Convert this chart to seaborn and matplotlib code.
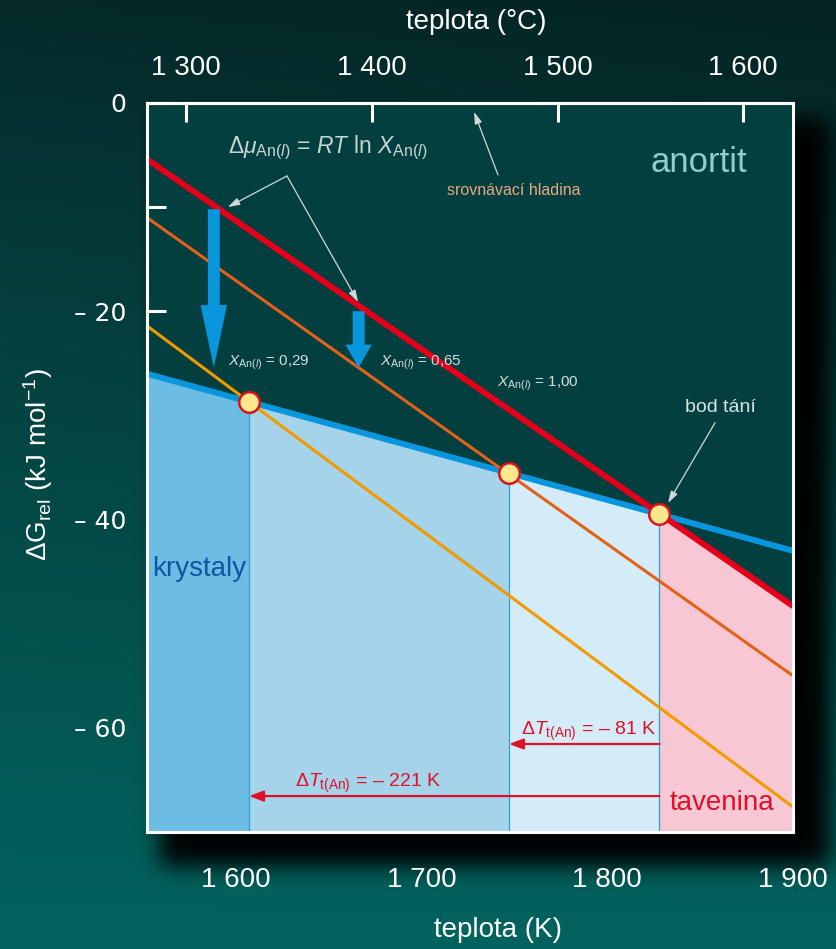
import numpy as np
import matplotlib
matplotlib.use("Agg")
import matplotlib.pyplot as plt
from matplotlib.patches import FancyArrowPatch
import seaborn as sns

# temperature range (K) and line values at both ends of it (kJ/mol)
T_edges = [1552, 1900]
G_crystal = [-26.0, -43.0]      # anortit, krystaly
G_melt_100 = [-5.4, -48.3]      # tavenina, X_An(l) = 1,00
G_melt_065 = [-11.0, -55.0]     # tavenina, X_An(l) = 0,65
G_melt_029 = [-21.4, -67.6]     # tavenina, X_An(l) = 0,29

# equilibrium points crystal / melt
melt_T = [1607, 1747, 1828]
melt_G = [-28.7, -35.5, -39.45]
melt_X = ["0,29", "0,65", "1,00"]

# freezing-point depression arrows
dT_labels = ["– 221 K", "– 81 K"]
dT_level = [-66.55, -61.55]

# RT ln X drops shown as thick arrows
mu_T = [1588, 1666]
mu_top = [-10.2, -20.0]
mu_tip = [-25.4, -25.4]
mu_head = [45.0, 16.5]

xticks_K = [1600, 1700, 1800, 1900]
xticks_C = [1300, 1400, 1500, 1600]
yticks = [0, -10, -20, -30, -40, -50, -60]
y_min, y_max = -70, 0

W, H = 837, 949

sns.set_theme(style="white")
plt.rcParams["font.family"] = ["Liberation Sans", "DejaVu Sans"]
plt.rcParams["mathtext.fontset"] = "custom"
plt.rcParams["mathtext.rm"] = "Liberation Sans"
plt.rcParams["mathtext.it"] = "Liberation Sans:italic"
plt.rcParams["mathtext.bf"] = "Liberation Sans:bold"
plt.rcParams["mathtext.sf"] = "Liberation Sans"


def blur(a, sigma):
    r = int(3 * sigma)
    k = np.exp(-0.5 * (np.arange(-r, r + 1) / sigma) ** 2)
    k /= k.sum()
    a = np.apply_along_axis(lambda v: np.convolve(v, k, mode="same"), 0, a)
    a = np.apply_along_axis(lambda v: np.convolve(v, k, mode="same"), 1, a)
    return a


# dark teal backdrop with a drop shadow behind the plot frame
yy = np.broadcast_to(np.linspace(0, 1, H)[:, None], (H, W))
xx = np.broadcast_to(np.linspace(0, 1, W)[None, :], (H, W))
top_c = np.array([0.02, 0.16, 0.16])
bot_c = np.array([0.01, 0.39, 0.37])
t = (yy ** 0.9)[..., None]
bg = top_c * (1 - t) + bot_c * t
bg *= (1 - 0.15 * (xx * (1 - yy)))[..., None]
mask = np.zeros((H, W))
mask[118:866, 160:830] = 1.0
mask = blur(mask, 11)
bg *= (1 - 0.97 * mask)[..., None]
bg = np.clip(bg, 0, 1)

fig = plt.figure(figsize=(W / 100, H / 100), dpi=100)
bax = fig.add_axes([0, 0, 1, 1], zorder=-10)
bax.imshow(bg, aspect="auto", extent=(0, 1, 0, 1))
bax.set_axis_off()

ax = fig.add_axes([147 / W, 1 - 832 / H, 646 / W, 729 / H])
ax.set_facecolor("#033f3f")
ax.set_xlim(*T_edges)
ax.set_ylim(y_min, y_max)

# stability fields under the curves
edges_T = [T_edges[0]] + melt_T
tops = [G_crystal[0]] + melt_G
fills = ["#6CBCE4", "#A4D3EA", "#D4ECF7"]
for i in range(3):
    ax.fill_between([edges_T[i], edges_T[i + 1]], [tops[i], tops[i + 1]], y_min,
                    color=fills[i], lw=0, zorder=1)
ax.fill_between([melt_T[2], T_edges[1]], [melt_G[2], G_melt_100[1]], y_min,
                color="#F7C8D4", lw=0, zorder=1)
for Tm, Gm in zip(melt_T, melt_G):
    ax.plot([Tm, Tm], [y_min, Gm], color="#2E9EE0", lw=0.9, zorder=1.5)

# free-energy lines
sns.lineplot(x=T_edges, y=G_crystal, color="#0A96DC", lw=4.3, ax=ax, zorder=3)
sns.lineplot(x=T_edges, y=G_melt_029, color="#F29A00", lw=2.2, ax=ax, zorder=3.2)
sns.lineplot(x=T_edges, y=G_melt_065, color="#E2621B", lw=2.2, ax=ax, zorder=3.3)
sns.lineplot(x=T_edges, y=G_melt_100, color="#E3001B", lw=4.3, ax=ax, zorder=3.4)
sns.scatterplot(x=melt_T, y=melt_G, s=220, color="#FFE88C", edgecolor="#D7141E",
                linewidth=1.8, ax=ax, zorder=6)

# RT ln X arrows
for T, a, b, hl in zip(mu_T, mu_top, mu_tip, mu_head):
    ax.add_patch(FancyArrowPatch((T, a), (T, b),
                 arrowstyle=f"simple,head_length={hl},head_width=19,tail_width=8.6",
                 mutation_scale=1, color="#0A96DC", lw=0, shrinkA=0, shrinkB=0, zorder=5))

# freezing-point depression arrows
red = "#E0102A"
for Tend, lvl in zip(melt_T[:2], dT_level):
    ax.annotate("", xy=(Tend, lvl), xytext=(melt_T[2], lvl),
                arrowprops=dict(arrowstyle="-|>,head_length=8.5,head_width=3.2",
                                mutation_scale=1, lw=1.6, color=red,
                                shrinkA=0, shrinkB=0), zorder=5)
ax.text(1753.5, -60.7, r"$\Delta\mathit{T}_{\mathrm{t(An)}}$ = " + dT_labels[1],
        color=red, fontsize=14, ha="left", va="baseline", zorder=7)
ax.text(1631.7, -65.7, r"$\Delta\mathit{T}_{\mathrm{t(An)}}$ = " + dT_labels[0],
        color=red, fontsize=14, ha="left", va="baseline", zorder=7)

# labels inside the plot
ax.text(1554.7, -45.4, "krystaly", color="#1255A5", fontsize=20, va="baseline", zorder=7)
ax.text(1833.8, -67.9, "tavenina", color=red, fontsize=20, va="baseline", zorder=7)
ax.text(1823.0, -6.6, "anortit", color="#8ECFCB", fontsize=25, va="baseline", zorder=7)

light = "#D3DEDE"
ax.text(1595.6, -25.25, r"$X_{\mathrm{An}(l)}$ = " + melt_X[0], color=light, fontsize=11,
        va="baseline", zorder=7)
ax.text(1677.5, -25.25, r"$X_{\mathrm{An}(l)}$ = " + melt_X[1], color=light, fontsize=11,
        va="baseline", zorder=7)
ax.text(1740.6, -27.2, r"$X_{\mathrm{An}(l)}$ = " + melt_X[2], color=light, fontsize=11,
        va="baseline", zorder=7)

ax.text(1595.6, -4.8, r"$\Delta\mu_{\mathrm{An}(l)}$ = $RT$ ln $X_{\mathrm{An}(l)}$",
        color="#C5D5D5", fontsize=16.5, va="baseline", zorder=7)
thin = dict(arrowstyle="-|>,head_length=7,head_width=2.2", mutation_scale=1, lw=0.9,
            color="#D0DADA", shrinkA=0, shrinkB=0)
ax.annotate("", xy=(1595.6, -9.99), xytext=(1627.4, -7.01), arrowprops=thin, zorder=7)
ax.annotate("", xy=(1665.7, -19.1), xytext=(1627.4, -7.01), arrowprops=thin, zorder=7)

ax.text(1713.6, -8.85, "srovnávací hladina", color="#E8A882", fontsize=11.5,
        va="baseline", zorder=7)
ax.annotate("", xy=(1728.2, -0.86), xytext=(1741.1, -6.91), arrowprops=thin, zorder=7)

ax.text(1841.9, -29.7, "bod tání", color="#D8E3E3", fontsize=14, va="baseline", zorder=7)
ax.annotate("", xy=(1832.7, -38.4), xytext=(1858.0, -30.7), arrowprops=thin, zorder=7)

# frame and ticks
for sp in ax.spines.values():
    sp.set_color("white")
    sp.set_linewidth(2.2)
    sp.set_zorder(8)

ax.set_xticks(xticks_K, [f"{v // 1000} {v % 1000:03d}" for v in xticks_K])
ax.set_yticks(yticks, ["0" if v == 0 else (f"– {abs(v)}" if v % 20 == 0 else "")
                       for v in yticks])
ax.tick_params(axis="x", direction="in", length=12, width=2.2, color="white",
               labelcolor="white", labelsize=20, pad=25, bottom=True, top=False)
ax.tick_params(axis="y", direction="in", length=13.5, width=2.2, color="white",
               labelcolor="white", labelsize=18, pad=15, left=True, right=False)
for lab in ax.get_yticklabels():
    lab.set_family("DejaVu Sans")

sec = ax.secondary_xaxis("top", functions=(lambda k: k - 273.15, lambda c: c + 273.15))
sec.set_xticks(xticks_C, [f"{v // 1000} {v % 1000:03d}" for v in xticks_C])
sec.tick_params(direction="in", length=14, width=2.2, color="white",
                labelcolor="white", labelsize=20, pad=16)
sec.spines["top"].set_color("white")
sec.spines["top"].set_linewidth(2.2)

fig.text(476 / W, 1 - 22 / H, "teplota (°C)", color="white", fontsize=20,
         ha="center", va="center")
fig.text(498 / W, 1 - 930 / H, "teplota (K)", color="white", fontsize=20,
         ha="center", va="center")
fig.text(38 / W, 1 - 465 / H, r"$\Delta\mathrm{G}_{\mathrm{rel}}$ (kJ mol$^{-1}$)",
         color="white", fontsize=20, rotation=90, ha="center", va="center")

fig.savefig("out.png", dpi=100)
